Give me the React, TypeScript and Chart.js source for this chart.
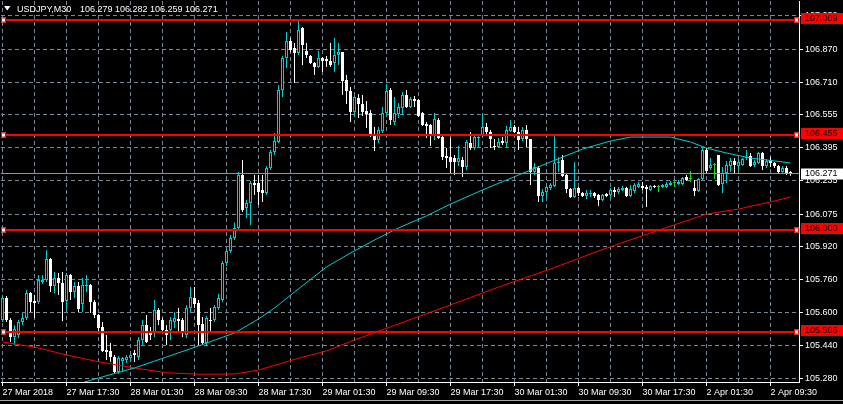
import React, { useEffect, useRef } from 'react';
import { Chart, registerables } from 'chart.js';

Chart.register(...registerables);

const FONT = 'Liberation Sans';
const CYAN = '#00CED1';
const WHITE = '#ffffff';
const LIME = '#12e012';
const RED = '#ff0000';
const GRID = '#778899';
const PRICE_LINE = '#8896a6';

// ---- OHLC data (M30 bars, index 0 = 27 Mar 2018 09:30) ----
const opens = [
  105.564, 105.670, 105.564, 105.482, 105.492, 105.555, 105.574, 105.694, 105.656, 105.651,
  105.747, 105.757, 105.858, 105.728, 105.767, 105.743, 105.656, 105.781, 105.699, 105.728,
  105.641, 105.728, 105.733, 105.651, 105.588, 105.531, 105.420, 105.415, 105.386, 105.314,
  105.367, 105.372, 105.381, 105.405, 105.386, 105.468, 105.540, 105.507, 105.502, 105.613,
  105.564, 105.516, 105.516, 105.555, 105.569, 105.564, 105.492, 105.622, 105.670, 105.646,
  105.545, 105.454, 105.564, 105.564, 105.622, 105.661, 105.839, 105.897, 105.959, 106.008,
  106.263, 106.104, 106.128, 106.224, 106.224, 106.191, 106.176, 106.297, 106.374, 106.422,
  106.673, 106.827, 106.909, 106.875, 106.851, 106.972, 106.861, 106.837, 106.803, 106.784,
  106.827, 106.823, 106.813, 106.803, 106.841, 106.856, 106.721, 106.668, 106.567, 106.634,
  106.605, 106.572, 106.562, 106.456, 106.432, 106.475, 106.562, 106.673, 106.519, 106.557,
  106.586, 106.649, 106.591, 106.629, 106.625, 106.562, 106.509, 106.504, 106.456, 106.528,
  106.446, 106.355, 106.350, 106.345, 106.326, 106.336, 106.302, 106.417, 106.393, 106.442,
  106.456, 106.494, 106.470, 106.403, 106.398, 106.427, 106.417, 106.475, 106.494, 106.470,
  106.437, 106.480, 106.437, 106.278, 106.297, 106.162, 106.181, 106.201, 106.210, 106.321,
  106.336, 106.263, 106.196, 106.157, 106.201, 106.176, 106.162, 106.172, 106.176, 106.167,
  106.143, 106.172, 106.167, 106.191, 106.181, 106.191, 106.201, 106.162, 106.186, 106.205,
  106.210, 106.205, 106.191, 106.210, 106.205, 106.205, 106.205, 106.215, 106.224, 106.220,
  106.220, 106.254, 106.244, 106.201, 106.186, 106.244, 106.384, 106.297, 106.311, 106.360,
  106.220, 106.273, 106.306, 106.330, 106.306, 106.311, 106.345, 106.355, 106.311, 106.321,
  106.369, 106.306, 106.336, 106.321, 106.306, 106.278, 106.297, 106.279,
];
const highs = [
  105.680, 105.680, 105.574, 105.540, 105.564, 105.598, 105.709, 105.699, 105.685, 105.781,
  105.781, 105.902, 105.863, 105.796, 105.791, 105.796, 105.791, 105.786, 105.747, 105.747,
  105.767, 105.781, 105.738, 105.661, 105.593, 105.555, 105.492, 105.454, 105.396, 105.391,
  105.386, 105.396, 105.405, 105.420, 105.482, 105.564, 105.588, 105.531, 105.661, 105.622,
  105.574, 105.540, 105.579, 105.603, 105.622, 105.574, 105.637, 105.723, 105.723, 105.661,
  105.579, 105.584, 105.622, 105.637, 105.690, 105.849, 105.906, 105.974, 106.036, 106.277,
  106.335, 106.143, 106.234, 106.263, 106.263, 106.263, 106.306, 106.384, 106.466, 106.697,
  106.837, 106.952, 106.923, 106.899, 107.009, 106.976, 106.899, 106.841, 106.808, 106.861,
  106.832, 106.837, 106.899, 106.923, 106.899, 106.856, 106.745, 106.687, 106.649, 106.654,
  106.649, 106.620, 106.576, 106.494, 106.494, 106.591, 106.702, 106.682, 106.639, 106.610,
  106.663, 106.673, 106.639, 106.644, 106.629, 106.567, 106.519, 106.509, 106.562, 106.538,
  106.461, 106.393, 106.442, 106.360, 106.403, 106.350, 106.432, 106.470, 106.456, 106.456,
  106.562, 106.514, 106.480, 106.437, 106.442, 106.446, 106.499, 106.528, 106.504, 106.494,
  106.494, 106.504, 106.437, 106.321, 106.306, 106.196, 106.215, 106.224, 106.451, 106.350,
  106.360, 106.268, 106.201, 106.326, 106.205, 106.181, 106.191, 106.191, 106.181, 106.172,
  106.172, 106.176, 106.201, 106.205, 106.205, 106.210, 106.205, 106.215, 106.224, 106.229,
  106.229, 106.215, 106.215, 106.215, 106.215, 106.220, 106.229, 106.234, 106.234, 106.239,
  106.254, 106.263, 106.283, 106.239, 106.249, 106.393, 106.393, 106.345, 106.321, 106.360,
  106.302, 106.330, 106.345, 106.345, 106.340, 106.345, 106.384, 106.369, 106.336, 106.374,
  106.374, 106.340, 106.350, 106.326, 106.311, 106.306, 106.306, 106.282,
];
const lows = [
  105.555, 105.555, 105.458, 105.444, 105.478, 105.540, 105.564, 105.603, 105.574, 105.641,
  105.738, 105.747, 105.699, 105.694, 105.685, 105.559, 105.613, 105.661, 105.670, 105.603,
  105.603, 105.699, 105.598, 105.574, 105.502, 105.410, 105.372, 105.362, 105.309, 105.304,
  105.314, 105.357, 105.362, 105.362, 105.372, 105.444, 105.454, 105.468, 105.482, 105.540,
  105.507, 105.444, 105.468, 105.526, 105.507, 105.482, 105.478, 105.603, 105.622, 105.444,
  105.444, 105.444, 105.507, 105.555, 105.613, 105.651, 105.825, 105.887, 105.950, 105.998,
  106.085, 106.056, 106.022, 106.167, 106.119, 106.133, 106.167, 106.287, 106.360, 106.417,
  106.639, 106.779, 106.856, 106.707, 106.841, 106.793, 106.827, 106.798, 106.745, 106.779,
  106.760, 106.784, 106.784, 106.760, 106.793, 106.649, 106.605, 106.519, 106.552, 106.538,
  106.547, 106.490, 106.446, 106.379, 106.417, 106.466, 106.552, 106.504, 106.504, 106.538,
  106.552, 106.586, 106.586, 106.591, 106.543, 106.499, 106.442, 106.403, 106.432, 106.437,
  106.336, 106.297, 106.273, 106.263, 106.306, 106.254, 106.287, 106.384, 106.384, 106.398,
  106.446, 106.451, 106.393, 106.384, 106.393, 106.408, 106.398, 106.470, 106.466, 106.384,
  106.427, 106.398, 106.215, 106.263, 106.133, 106.133, 106.157, 106.191, 106.205, 106.278,
  106.254, 106.176, 106.152, 106.152, 106.162, 106.157, 106.148, 106.157, 106.152, 106.114,
  106.138, 106.157, 106.157, 106.157, 106.172, 106.186, 106.157, 106.157, 106.176, 106.201,
  106.191, 106.109, 106.186, 106.201, 106.181, 106.201, 106.201, 106.210, 106.205, 106.215,
  106.215, 106.234, 106.229, 106.162, 106.181, 106.239, 106.273, 106.287, 106.244, 106.210,
  106.176, 106.225, 106.278, 106.273, 106.287, 106.306, 106.336, 106.302, 106.302, 106.316,
  106.287, 106.297, 106.302, 106.297, 106.268, 106.273, 106.263, 106.259,
];
const closes = [
  105.670, 105.564, 105.482, 105.521, 105.555, 105.574, 105.694, 105.651, 105.646, 105.757,
  105.757, 105.858, 105.728, 105.767, 105.743, 105.651, 105.781, 105.699, 105.728, 105.617,
  105.733, 105.733, 105.651, 105.588, 105.526, 105.415, 105.410, 105.386, 105.314, 105.381,
  105.381, 105.386, 105.396, 105.396, 105.468, 105.540, 105.458, 105.492, 105.613, 105.564,
  105.516, 105.492, 105.564, 105.574, 105.559, 105.502, 105.622, 105.675, 105.641, 105.540,
  105.454, 105.574, 105.559, 105.627, 105.670, 105.839, 105.897, 105.959, 106.008, 106.263,
  106.094, 106.128, 106.224, 106.215, 106.181, 106.176, 106.297, 106.374, 106.427, 106.673,
  106.827, 106.909, 106.866, 106.851, 106.962, 106.890, 106.841, 106.803, 106.784, 106.827,
  106.813, 106.813, 106.793, 106.841, 106.856, 106.716, 106.668, 106.567, 106.639, 106.605,
  106.567, 106.557, 106.456, 106.432, 106.480, 106.562, 106.668, 106.528, 106.562, 106.591,
  106.649, 106.591, 106.629, 106.620, 106.547, 106.504, 106.499, 106.461, 106.533, 106.442,
  106.350, 106.345, 106.326, 106.326, 106.345, 106.302, 106.422, 106.393, 106.446, 106.446,
  106.494, 106.470, 106.437, 106.398, 106.422, 106.417, 106.480, 106.494, 106.470, 106.432,
  106.480, 106.437, 106.278, 106.302, 106.162, 106.181, 106.205, 106.215, 106.321, 106.326,
  106.258, 106.196, 106.157, 106.201, 106.176, 106.162, 106.176, 106.176, 106.162, 106.143,
  106.167, 106.162, 106.191, 106.181, 106.196, 106.201, 106.162, 106.196, 106.215, 106.220,
  106.201, 106.196, 106.210, 106.205, 106.205, 106.215, 106.220, 106.224, 106.224, 106.229,
  106.249, 106.239, 106.244, 106.186, 106.244, 106.384, 106.282, 106.311, 106.311, 106.215,
  106.273, 106.311, 106.330, 106.311, 106.326, 106.340, 106.350, 106.306, 106.326, 106.369,
  106.306, 106.330, 106.321, 106.306, 106.278, 106.297, 106.273, 106.271,
];

// ---- moving averages ----
const maFastIdx = [20, 24, 33, 41, 49, 58, 64, 68, 73, 81, 87, 93, 99, 106, 112, 120, 129, 137, 145, 152, 157, 167, 172, 176, 181, 187, 193, 197];
const maFastVal = [105.262, 105.285, 105.333, 105.386, 105.439, 105.502, 105.569, 105.622, 105.699, 105.820, 105.887, 105.950, 106.008, 106.066, 106.123, 106.191, 106.263, 106.326, 106.388, 106.427, 106.446, 106.446, 106.422, 106.393, 106.369, 106.345, 106.331, 106.321];
const maSlowIdx = [0, 8, 16, 24, 33, 41, 49, 58, 64, 74, 81, 88, 112, 124, 137, 149, 162, 176, 184, 193, 197];
const maSlowVal = [105.458, 105.434, 105.396, 105.363, 105.333, 105.310, 105.303, 105.304, 105.323, 105.380, 105.415, 105.468, 105.637, 105.723, 105.810, 105.897, 105.984, 106.075, 106.099, 106.138, 106.157];

// ---- axes ----
const xGridIdx = [0, 8, 16, 24, 32, 40, 48, 56, 64, 72, 80, 88, 96, 104, 112, 120, 128, 136, 144, 152, 160, 168, 176, 184, 192];
const xLabelIdx = [0, 16, 32, 48, 64, 80, 96, 112, 128, 144, 160, 176, 192];
const xLabels = ['27 Mar 2018', '27 Mar 17:30', '28 Mar 01:30', '28 Mar 09:30', '28 Mar 17:30', '29 Mar 01:30', '29 Mar 09:30', '29 Mar 17:30', '30 Mar 01:30', '30 Mar 09:30', '30 Mar 17:30', '2 Apr 01:30', '2 Apr 09:30'];
const yTickValues = [105.280, 105.440, 105.600, 105.760, 105.920, 106.075, 106.235, 106.395, 106.555, 106.710, 106.870, 107.030];

// ---- horizontal levels and header ----
const levels = [107.009, 106.455, 106.000, 105.506];
const currentPrice = 106.271;
const symbolText = 'USDJPY,M30';
const ohlcText = ['106.279', '106.282', '106.259', '106.271'];

const overlayPlugin = {
  id: 'mtOverlay',
  afterDraw(chart: any) {
    const { ctx, chartArea: a, scales } = chart;
    const y = scales.y;
    const W = chart.width;
    ctx.save();
    ctx.font = `9px "${FONT}"`;
    ctx.textAlign = 'left';

    // current price line
    const cp = Math.round(y.getPixelForValue(currentPrice)) + 0.5;
    ctx.strokeStyle = PRICE_LINE;
    ctx.lineWidth = 1;
    ctx.beginPath();
    ctx.moveTo(a.left, cp);
    ctx.lineTo(a.right, cp);
    ctx.stroke();

    // level lines
    for (const lv of levels) {
      const py = Math.round(y.getPixelForValue(lv));
      ctx.strokeStyle = RED;
      ctx.lineWidth = 2;
      ctx.beginPath();
      ctx.moveTo(a.left, py);
      ctx.lineTo(a.right, py);
      ctx.stroke();
      for (const mx of [a.left + 2.5, a.right - 2.5]) {
        ctx.fillStyle = WHITE;
        ctx.fillRect(mx - 2.5, py - 2.5, 5, 5);
        ctx.strokeStyle = RED;
        ctx.lineWidth = 1;
        ctx.strokeRect(mx - 2, py - 2, 4, 4);
      }
      ctx.fillStyle = RED;
      ctx.fillRect(a.right + 2, py - 7, W - a.right - 2, 11);
      ctx.fillStyle = '#000';
      ctx.textBaseline = 'middle';
      ctx.fillText(lv.toFixed(3), a.right + 6, py - 1.5);
    }

    // current price label
    ctx.fillStyle = WHITE;
    ctx.fillRect(a.right + 2, cp - 5, W - a.right - 2, 11);
    ctx.fillStyle = '#000';
    ctx.textBaseline = 'middle';
    ctx.fillText(currentPrice.toFixed(3), a.right + 6, cp + 0.5);

    // header
    ctx.fillStyle = WHITE;
    ctx.beginPath();
    ctx.moveTo(4, 6);
    ctx.lineTo(10.5, 6);
    ctx.lineTo(7.25, 10.5);
    ctx.closePath();
    ctx.fill();
    ctx.textBaseline = 'alphabetic';
    ctx.fillText(symbolText, 17, 11.5);
    ctx.fillText(ohlcText.join(' '), 80, 11.5);

    // window bottom edge
    ctx.strokeStyle = '#a8a8a8';
    ctx.lineWidth = 1;
    ctx.beginPath();
    ctx.moveTo(0, 400.5);
    ctx.lineTo(W, 400.5);
    ctx.stroke();
    ctx.restore();
  },
};

const noPad = (s: any) => {
  s.paddingTop = 0;
  s.paddingBottom = 0;
  s.paddingLeft = 0;
  s.paddingRight = 0;
};

export default function App() {
  const ref = useRef<HTMLCanvasElement>(null);

  useEffect(() => {
    document.body.style.margin = '0';
    document.body.style.background = '#000';
    const canvas = ref.current;
    if (!canvas) return;

    const idx = opens.map((_, i) => i);
    const kind = idx.map((i) => (closes[i] > opens[i] ? 1 : closes[i] < opens[i] ? -1 : 0));
    const edge = kind.map((k) => (k > 0 ? CYAN : k < 0 ? WHITE : LIME));
    const fill = kind.map((k) => (k > 0 ? '#000000' : k < 0 ? WHITE : LIME));

    const font = { family: FONT, size: 9 };

    const chart = new Chart(canvas, {
      type: 'bar',
      data: {
        datasets: [
          {
            type: 'line',
            label: 'MA fast',
            data: maFastIdx.map((x, i) => ({ x, y: maFastVal[i] })),
            borderColor: CYAN,
            borderWidth: 1,
            pointRadius: 0,
            tension: 0,
            fill: false,
            order: 0,
          } as any,
          {
            type: 'line',
            label: 'MA slow',
            data: maSlowIdx.map((x, i) => ({ x, y: maSlowVal[i] })),
            borderColor: RED,
            borderWidth: 1,
            pointRadius: 0,
            tension: 0,
            fill: false,
            order: 0,
          } as any,
          {
            type: 'bar',
            label: 'body',
            data: idx.map((i) => ({ x: i, y: [opens[i], closes[i]] })),
            backgroundColor: fill,
            borderColor: edge,
            borderWidth: 1,
            borderSkipped: false,
            barThickness: 3,
            minBarLength: 1,
            grouped: false,
            inflateAmount: 0,
            order: 1,
          } as any,
          {
            type: 'bar',
            label: 'wick',
            data: idx.map((i) => ({ x: i, y: [lows[i], highs[i]] })),
            backgroundColor: edge,
            borderWidth: 0,
            barThickness: 1,
            minBarLength: 1,
            grouped: false,
            inflateAmount: 0,
            order: 2,
          } as any,
        ],
      },
      options: {
        responsive: false,
        maintainAspectRatio: false,
        animation: false,
        devicePixelRatio: 1,
        events: [],
        layout: { padding: { left: 1, top: 1, right: 0, bottom: 0 } },
        plugins: { legend: { display: false }, tooltip: { enabled: false }, title: { display: false } },
        scales: {
          x: {
            type: 'linear',
            min: -0.375,
            max: 199.125,
            offset: false,
            bounds: 'data',
            afterBuildTicks: (s: any) => {
              s.ticks = xGridIdx.map((v) => ({ value: v }));
            },
            afterFit: (s: any) => {
              s.height = 22;
              noPad(s);
            },
            ticks: {
              autoSkip: false,
              maxRotation: 0,
              minRotation: 0,
              align: 'start',
              padding: 1,
              color: WHITE,
              font,
              callback: (v: any) => {
                const k = xLabelIdx.indexOf(Number(v));
                return k >= 0 ? xLabels[k] : '';
              },
            },
            grid: {
              color: GRID,
              offset: false,
              lineWidth: 1,
              tickLength: 4,
              tickColor: (c: any) => (c.tick && xLabelIdx.includes(c.tick.value) ? WHITE : 'rgba(0,0,0,0)'),
            },
            border: { display: true, color: WHITE, width: 1, dash: [4, 3] },
          },
          y: {
            type: 'linear',
            position: 'right',
            min: 105.2655,
            max: 107.1017,
            bounds: 'data',
            afterBuildTicks: (s: any) => {
              s.ticks = yTickValues.map((v) => ({ value: v }));
            },
            afterFit: (s: any) => {
              s.width = 44;
              noPad(s);
            },
            ticks: {
              color: WHITE,
              padding: 2,
              font,
              callback: (v: any) => Number(v).toFixed(3),
            },
            grid: { color: GRID, lineWidth: 1, tickLength: 4, tickColor: WHITE },
            border: { display: true, color: WHITE, width: 1, dash: [4, 3] },
          },
        },
      } as any,
      plugins: [overlayPlugin],
    });

    return () => chart.destroy();
  }, []);

  return (
    <div style={{ width: 843, height: 404, background: '#000' }}>
      <canvas ref={ref} width={843} height={404} style={{ display: 'block', width: 843, height: 404 }} />
    </div>
  );
}
